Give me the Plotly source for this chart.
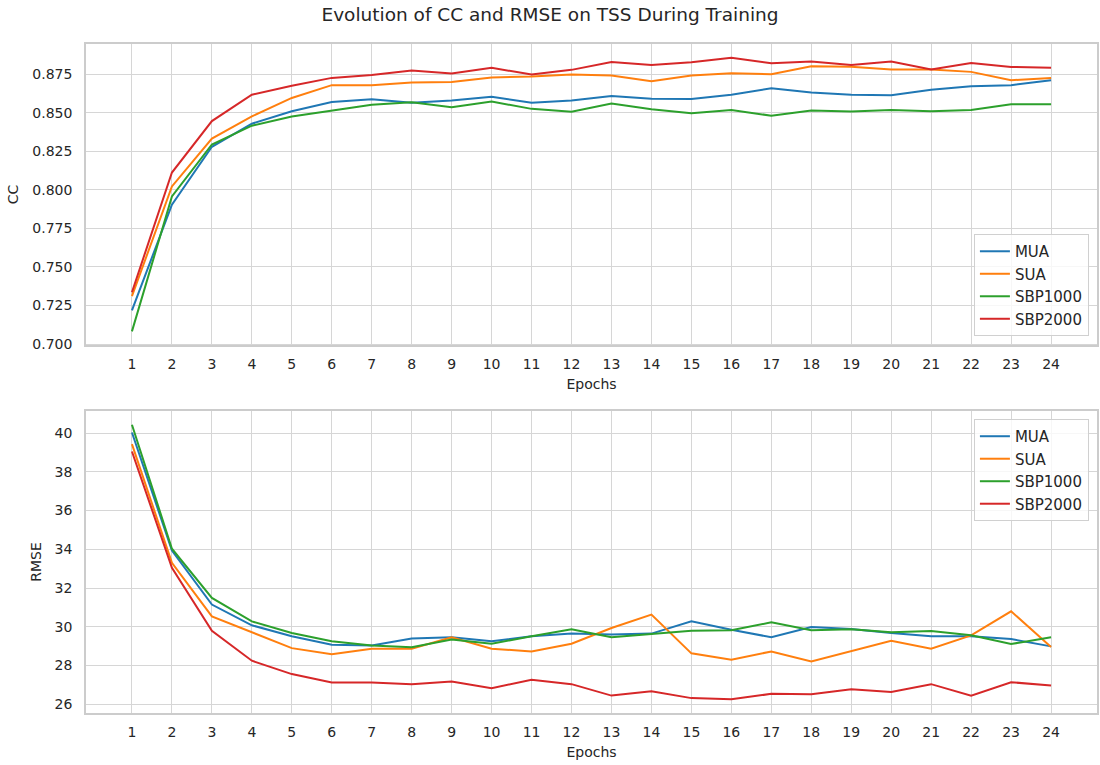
import plotly.graph_objects as go
from plotly.subplots import make_subplots

# Training epochs
epochs = list(range(1, 25))
series_names = ["MUA", "SUA", "SBP1000", "SBP2000"]
colors = ["#1f77b4", "#ff7f0e", "#2ca02c", "#d62728"]

# Correlation coefficient per epoch
cc_mua = [0.7218, 0.7904, 0.8279, 0.8429, 0.8510, 0.8570, 0.8587, 0.8564, 0.8579, 0.8604,
          0.8564, 0.8579, 0.8609, 0.8591, 0.8589, 0.8617, 0.8658, 0.8632, 0.8617, 0.8613,
          0.8649, 0.8671, 0.8679, 0.8711]
cc_sua = [0.7310, 0.8022, 0.8332, 0.8476, 0.8596, 0.8679, 0.8679, 0.8696, 0.8699, 0.8729,
          0.8735, 0.8748, 0.8741, 0.8705, 0.8741, 0.8756, 0.8750, 0.8801, 0.8799, 0.8780,
          0.8780, 0.8765, 0.8711, 0.8726]
cc_sbp1000 = [0.7082, 0.7957, 0.8294, 0.8416, 0.8476, 0.8514, 0.8551, 0.8568, 0.8536, 0.8572,
              0.8525, 0.8506, 0.8559, 0.8523, 0.8497, 0.8517, 0.8481, 0.8514, 0.8508, 0.8517,
              0.8510, 0.8517, 0.8555, 0.8555]
cc_sbp2000 = [0.7336, 0.8112, 0.8446, 0.8617, 0.8675, 0.8726, 0.8744, 0.8774, 0.8754, 0.8791,
              0.8748, 0.8778, 0.8829, 0.8810, 0.8827, 0.8857, 0.8821, 0.8832, 0.8810, 0.8832,
              0.8780, 0.8823, 0.8797, 0.8791]

# Root mean squared error per epoch
rmse_mua = [40.03, 33.94, 31.15, 30.08, 29.51, 29.08, 29.04, 29.40, 29.46, 29.25,
            29.51, 29.65, 29.60, 29.65, 30.28, 29.85, 29.46, 29.99, 29.89, 29.68,
            29.51, 29.51, 29.37, 28.99]
rmse_sua = [39.43, 33.30, 30.54, 29.73, 28.90, 28.59, 28.87, 28.87, 29.46, 28.87,
            28.73, 29.13, 29.94, 30.63, 28.63, 28.30, 28.73, 28.21, 28.73, 29.28,
            28.87, 29.56, 30.80, 28.96]
rmse_sbp1000 = [40.43, 34.03, 31.49, 30.28, 29.68, 29.25, 29.03, 28.94, 29.34, 29.13,
                29.51, 29.87, 29.46, 29.63, 29.80, 29.82, 30.23, 29.82, 29.87, 29.72,
                29.79, 29.56, 29.11, 29.46]
rmse_sbp2000 = [39.05, 33.05, 29.80, 28.25, 27.56, 27.13, 27.13, 27.04, 27.18, 26.83,
                27.27, 27.04, 26.45, 26.67, 26.32, 26.26, 26.54, 26.52, 26.78, 26.63,
                27.04, 26.45, 27.14, 26.97]

cc_ticks = [0.700, 0.725, 0.750, 0.775, 0.800, 0.825, 0.850, 0.875]
rmse_ticks = [26, 28, 30, 32, 34, 36, 38, 40]

cc_series = [cc_mua, cc_sua, cc_sbp1000, cc_sbp2000]
rmse_series = [rmse_mua, rmse_sua, rmse_sbp1000, rmse_sbp2000]


def padded(values, frac=0.05):
    lo, hi = min(values), max(values)
    pad = (hi - lo) * frac
    return [lo - pad, hi + pad]


FONT = "DejaVu Sans"
TEXT = "#262626"
GRID = "#d6d6d6"

fig = make_subplots(rows=2, cols=1)

for name, color, ys in zip(series_names, colors, cc_series):
    fig.add_trace(go.Scatter(x=epochs, y=ys, mode="lines", name=name,
                             line=dict(color=color, width=2), legend="legend"),
                  row=1, col=1)
for name, color, ys in zip(series_names, colors, rmse_series):
    fig.add_trace(go.Scatter(x=epochs, y=ys, mode="lines", name=name,
                             line=dict(color=color, width=2), legend="legend2"),
                  row=2, col=1)

x_range = padded(epochs)
cc_range = padded([v for s in cc_series for v in s])
rmse_range = padded([v for s in rmse_series for v in s])

axis_common = dict(
    showgrid=True, gridcolor=GRID, gridwidth=1.3,
    showline=True, linecolor="#cccccc", linewidth=1.6, mirror=True,
    zeroline=False, ticks="outside", tickcolor="rgba(0,0,0,0)",
    tickfont=dict(family=FONT, size=14, color=TEXT),
)

fig.update_xaxes(**axis_common, tickvals=epochs, range=x_range, ticklen=5,
                 title=dict(text="Epochs", font=dict(family=FONT, size=14, color=TEXT),
                            standoff=9))
fig.update_yaxes(**axis_common, ticklen=9)

fig.update_yaxes(tickvals=cc_ticks, tickformat=".3f", range=cc_range,
                 domain=[0.550, 1.0],
                 title=dict(text="CC", font=dict(family=FONT, size=14, color=TEXT),
                            standoff=10),
                 row=1, col=1)
fig.update_yaxes(tickvals=rmse_ticks, range=rmse_range, domain=[0.0, 0.4514],
                 title=dict(text="RMSE", font=dict(family=FONT, size=14, color=TEXT),
                            standoff=10),
                 row=2, col=1)

legend_common = dict(
    bgcolor="rgba(255,255,255,0.8)", bordercolor="#d0d0d0", borderwidth=1,
    font=dict(family=FONT, size=15, color=TEXT), xanchor="right", x=0.992,
    tracegroupgap=0,
)

fig.update_layout(
    width=1100, height=765,
    margin=dict(l=86, r=1, t=44, b=52),
    paper_bgcolor="white", plot_bgcolor="white",
    title=dict(text="Evolution of CC and RMSE on TSS During Training",
               font=dict(family=FONT, size=18.5, color=TEXT),
               x=0.5, xref="container", xanchor="center",
               y=1 - 15 / 765, yref="container", yanchor="middle"),
    legend=dict(**legend_common, yanchor="bottom", y=0.5635),
    legend2=dict(**legend_common, yanchor="top", y=0.4395),
    showlegend=True,
)

fig.write_html("out.html")
